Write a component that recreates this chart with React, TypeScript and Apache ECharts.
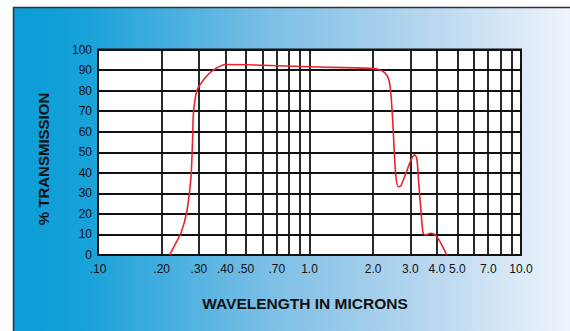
import React, { useEffect, useRef } from "react";
import * as echarts from "echarts";

const wavelength = [0.218, 0.231, 0.248, 0.262, 0.271, 0.276, 0.28, 0.282, 0.286, 0.294, 0.307, 0.33, 0.361, 0.401, 0.506, 1.0, 1.934, 2.123, 2.286, 2.373, 2.416, 2.462, 2.51, 2.554, 2.623, 2.7, 2.856, 3.018, 3.135, 3.215, 3.276, 3.373, 3.437, 3.526, 3.742, 3.942, 4.139, 4.297, 4.456];
const transmission = [0, 4.9, 11.3, 20.3, 30.8, 39.7, 56, 67.3, 73.8, 80.3, 83.5, 87.6, 90.8, 92.7, 92.6, 91.6, 90.8, 90.3, 88.4, 85.2, 80.3, 69, 52.7, 39.7, 33.2, 33.6, 39.7, 46.2, 48.7, 47.1, 36.5, 20.3, 11.3, 9.7, 10.6, 9.7, 6.5, 3.3, 0];

const gridLineValues = [0.1, 0.2, 0.3, 0.4, 0.5, 0.6, 0.7, 0.8, 0.9, 1, 2, 3, 4, 5, 6, 7, 8, 9, 10];
const labelValues = [0.1, 0.2, 0.3, 0.4, 0.5, 0.7, 1, 2, 3, 4, 5, 7, 10];

const xTitle = "WAVELENGTH IN MICRONS";
const yTitle = "% TRANSMISSION";

const FONT = "'Liberation Sans', Arial, Helvetica, sans-serif";

function fmtX(v: number): string {
  if (v < 1) return "." + Math.round(v * 100).toString().padStart(2, "0");
  return v.toFixed(1);
}

export default function App() {
  const ref = useRef<HTMLDivElement>(null);
  useEffect(() => {
    if (!ref.current) return;
    const chart = echarts.init(ref.current, null, { renderer: "svg" });
    const data = wavelength.map((w, i) => [w, transmission[i]]);
    chart.setOption({
      animation: false,
      graphic: [
        {
          type: "rect",
          z: -10,
          silent: true,
          shape: { x: 13.5, y: 7.5, width: 570, height: 340 },
          style: {
            stroke: "#333",
            lineWidth: 1.5,
            fill: new echarts.graphic.LinearGradient(0, 0, 1, 0, [
              { offset: 0, color: "#0a9dd7" },
              { offset: 0.12, color: "#16a1d9" },
              { offset: 0.45, color: "#7dbfe6" },
              { offset: 0.75, color: "#bdd9f0" },
              { offset: 1, color: "#f3f7fc" },
            ]),
          },
        },
        {
          type: "text",
          x: 43,
          y: 159,
          rotation: Math.PI / 2,
          style: {
            text: yTitle,
            fontFamily: FONT,
            fontWeight: "bold",
            fontSize: 15,
            fill: "#111",
            align: "center",
            verticalAlign: "middle",
          },
        },
        {
          type: "text",
          x: 305,
          y: 303,
          style: {
            text: xTitle,
            fontFamily: FONT,
            fontWeight: "bold",
            fontSize: 15.5,
            fill: "#111",
            align: "center",
            verticalAlign: "middle",
          },
        },
      ],
      grid: {
        left: 98,
        top: 49.5,
        right: 49,
        bottom: 76,
        show: true,
        backgroundColor: "#ffffff",
        borderColor: "#111",
        borderWidth: 1.8,
        containLabel: false,
        outerBoundsMode: "none",
      },
      xAxis: {
        type: "log",
        logBase: 10,
        min: 0.1,
        max: 10,
        axisLine: { show: false },
        axisTick: { show: false, customValues: gridLineValues },
        splitLine: { show: true, lineStyle: { color: "#111", width: 1.8 } },
        axisLabel: {
          customValues: labelValues,
          formatter: (v: number) => fmtX(v),
          fontFamily: FONT,
          fontSize: 12,
          color: "#111",
          margin: 8,
        },
      },
      yAxis: {
        type: "value",
        min: 0,
        max: 100,
        interval: 10,
        axisLine: { show: false },
        axisTick: { show: false },
        splitLine: { show: true, lineStyle: { color: "#111", width: 1.8 } },
        axisLabel: {
          fontFamily: FONT,
          fontSize: 12,
          color: "#111",
          margin: 6,
        },
      },
      series: [
        {
          type: "line",
          data,
          showSymbol: false,
          smooth: 0.3,
          lineStyle: { color: "#e8232b", width: 1.6 },
          z: 5,
        },
      ],
    });
    return () => chart.dispose();
  }, []);
  return (
    <div
      ref={ref}
      style={{ position: "fixed", left: 0, top: 0, width: 570, height: 331, background: "#fff" }}
    />
  );
}
